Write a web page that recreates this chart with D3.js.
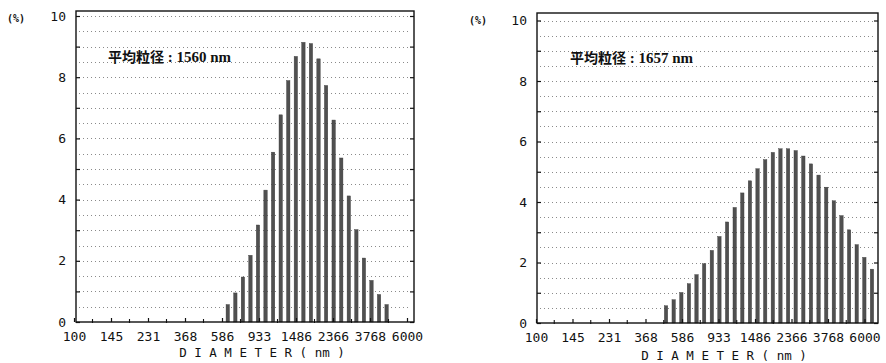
<!DOCTYPE html>
<html lang="ja">
<head>
<meta charset="utf-8">
<title>粒度分布</title>
<script src="https://d3js.org/d3.v7.min.js"></script>
<style>
  body { margin: 0; background: #fff; }
  .axis text { font-family: "DejaVu Sans Mono", monospace; font-size: 13px; fill: #111; }
  .axis path { display: none; }
  .axis line { stroke: #111; stroke-width: 1.2; }
  .grid line { stroke: #8a8a8a; stroke-width: 1; stroke-dasharray: 1 3; }
</style>
<script>
  // Tick labels on the diameter axis (nm)
  const diameterTicks = [100, 145, 231, 368, 586, 933, 1486, 2366, 3768, 6000];
  const yTicks = [0, 1, 2, 3, 4, 5, 6, 7, 8, 9, 10];

  // Left sample: bin diameters (nm) and frequency (%)
  const leftDiameters = [630, 693, 762, 838, 921, 1013, 1114, 1226, 1348, 1483, 1631,
                         1793, 1972, 2169, 2386, 2624, 2886, 3174, 3490, 3839, 4222, 4643];
  const leftValues = [0.57, 0.95, 1.47, 2.18, 3.17, 4.31, 5.55, 6.77, 7.89, 8.68, 9.14,
                      9.10, 8.60, 7.73, 6.60, 5.36, 4.12, 3.02, 2.09, 1.36, 0.90, 0.57];
  const leftMean = "1560";

  // Right sample
  const rightDiameters = [478, 527, 581, 640, 705, 777, 857, 944, 1041, 1147, 1264, 1393, 1535, 1692,
                          1865, 2055, 2265, 2496, 2751, 3032, 3341, 3683, 4059, 4473, 4930, 5433, 5988, 6599];
  const rightValues = [0.57, 0.77, 1.01, 1.30, 1.60, 1.96, 2.40, 2.86, 3.34, 3.82, 4.30, 4.70, 5.10, 5.40,
                       5.64, 5.76, 5.76, 5.70, 5.52, 5.26, 4.89, 4.49, 4.04, 3.55, 3.08, 2.59, 2.17, 1.78];
  const rightMean = "1657";
</script>
</head>
<body>
<div id="chart"></div>
<script>
  const width = 886, height = 363;

  const svg = d3.select("#chart")
    .append("svg")
    .attr("width", width)
    .attr("height", height);

  // one panel of the particle size report
  function drawPanel(p) {
    const g = svg.append("g");

    // log axis, the printed labels sit at equal steps
    const step = (p.x1 - p.x0) / (diameterTicks.length - 1);
    const x = d3.scaleLog()
      .domain(diameterTicks)
      .range(diameterTicks.map((d, i) => p.x0 + i * step));

    const y = d3.scaleLinear()
      .domain([0, 10])
      .range([p.y0, p.y10]);

    // dotted grid every 0.5 %
    g.append("g")
      .attr("class", "grid")
      .selectAll("line")
      .data(d3.range(1, 21).map(d => d / 2))
      .enter()
      .append("line")
      .attr("x1", p.left + 3)
      .attr("x2", p.right - 3)
      .attr("y1", d => Math.round(y(d)) + 0.5)
      .attr("y2", d => Math.round(y(d)) + 0.5);

    // bars
    g.selectAll("rect.bar")
      .data(p.values)
      .enter()
      .append("rect")
      .attr("class", "bar")
      .attr("x", (d, i) => x(p.diameters[i]) - 1.7)
      .attr("width", 3.4)
      .attr("y", d => y(d))
      .attr("height", d => y(0) - y(d))
      .attr("fill", "#505050")
      .attr("stroke", "#3a3a3a")
      .attr("stroke-width", 0.4);

    // frame
    g.append("rect")
      .attr("x", p.left)
      .attr("y", p.top)
      .attr("width", p.right - p.left)
      .attr("height", p.y0 - p.top)
      .attr("fill", "none")
      .attr("stroke", "#111")
      .attr("stroke-width", 1.4);

    // y axis (ticks inside the frame)
    g.append("g")
      .attr("class", "axis")
      .attr("transform", "translate(" + p.left + ",0)")
      .call(d3.axisLeft(y)
        .tickValues(yTicks)
        .tickSizeInner(-4)
        .tickSizeOuter(0)
        .tickPadding(10)
        .tickFormat(d => d % 2 === 0 ? String(d) : ""));

    g.append("g")
      .attr("class", "axis")
      .attr("transform", "translate(" + p.right + ",0)")
      .call(d3.axisRight(y)
        .tickValues(yTicks)
        .tickSizeInner(-4)
        .tickSizeOuter(0)
        .tickFormat(""));

    // x axis
    g.append("g")
      .attr("class", "axis")
      .attr("transform", "translate(0," + p.y0 + ")")
      .call(d3.axisBottom(x)
        .tickValues(diameterTicks)
        .tickSizeInner(-4)
        .tickSizeOuter(0)
        .tickPadding(10)
        .tickFormat(d => String(d)));

    // minor ticks halfway between labels
    g.append("g")
      .selectAll("line")
      .data(diameterTicks.slice(1))
      .enter()
      .append("line")
      .attr("x1", (d, i) => (x(d) + x(diameterTicks[i])) / 2)
      .attr("x2", (d, i) => (x(d) + x(diameterTicks[i])) / 2)
      .attr("y1", p.y0 + 1)
      .attr("y2", p.y0 - 3)
      .attr("stroke", "#111")
      .attr("stroke-width", 1.1);

    // unit label
    g.append("text")
      .attr("x", p.unitX)
      .attr("y", p.unitY)
      .attr("text-anchor", "middle")
      .attr("font-family", "DejaVu Sans Mono")
      .attr("font-size", "10px")
      .attr("font-weight", "bold")
      .attr("fill", "#111")
      .text("(%)");

    // axis title
    g.append("text")
      .attr("x", p.titleX)
      .attr("y", p.titleY)
      .attr("text-anchor", "middle")
      .attr("font-family", "DejaVu Sans Mono")
      .attr("font-size", "12.5px")
      .attr("fill", "#111")
      .text("D I A M E T E R ( nm )");

    // mean diameter note
    const note = g.append("text")
      .attr("x", p.noteX)
      .attr("y", p.noteY)
      .attr("fill", "#111");
    note.append("tspan")
      .attr("font-family", "Noto Sans CJK JP")
      .attr("font-weight", "bold")
      .attr("font-size", "14px")
      .text("平均粒径");
    note.append("tspan")
      .attr("font-family", "Liberation Serif")
      .attr("font-weight", "bold")
      .attr("font-size", "15px")
      .text(" : " + p.mean + " nm");
  }

  drawPanel({
    diameters: leftDiameters, values: leftValues, mean: leftMean,
    x0: 74, x1: 407, left: 76, right: 414, top: 11, y0: 322, y10: 16,
    unitX: 16, unitY: 22, titleX: 262, titleY: 357, noteX: 108, noteY: 62
  });

  drawPanel({
    diameters: rightDiameters, values: rightValues, mean: rightMean,
    x0: 536, x1: 864.5, left: 537, right: 878, top: 13, y0: 323, y10: 20.5,
    unitX: 478, unitY: 24, titleX: 724, titleY: 360, noteX: 570, noteY: 63
  });
</script>
</body>
</html>
